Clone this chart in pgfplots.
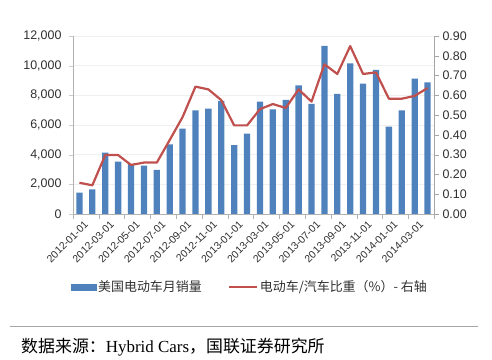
\documentclass[border=0pt]{standalone}
\usepackage{pgfplots}
\pgfplotsset{compat=1.18}
\usepackage{pgfplotstable}
\usepackage{fontspec}
\setmainfont{Liberation Sans}
\newfontfamily\cjk{Noto Sans CJK SC}
\newfontfamily\serif{Liberation Serif}
\definecolor{barblue}{HTML}{4F81BD}
\definecolor{linered}{HTML}{C0504D}
\definecolor{txt}{HTML}{303030}
\pgfplotstableread{
x sales share
0 1440 0.158
1 1660 0.145
2 4130 0.298
3 3530 0.298
4 3370 0.248
5 3260 0.260
6 2970 0.260
7 4700 0.374
8 5750 0.490
9 6990 0.644
10 7100 0.630
11 7620 0.576
12 4650 0.448
13 5420 0.448
14 7580 0.530
15 7060 0.556
16 7690 0.536
17 8670 0.630
18 7420 0.568
19 11330 0.757
20 8090 0.708
21 10160 0.849
22 8790 0.708
23 9710 0.716
24 5890 0.583
25 6990 0.583
26 9120 0.597
27 8880 0.637
}\datatable
\begin{document}
\begin{tikzpicture}
\useasboundingbox (0,0) rectangle (492bp,360bp);
\begin{axis}[
  at={(73bp,146bp)}, anchor=south west, scale only axis,
  width=361bp, height=178bp,
  xmin=-0.5, xmax=27.5, ymin=0, ymax=12000,
  axis y line*=left, axis x line*=bottom,
  axis line style={draw=gray!60},
  ytick={0,2000,...,12000},
  ymajorgrids, grid style={draw=gray!12},
  y tick label style={font=\fontsize{12.5}{14}\selectfont, text=txt, xshift=-4bp},
  yticklabel style={/pgf/number format/.cd, fixed, 1000 sep={,}, assume math mode=true},
  scaled y ticks=false,
  tick align=outside,
  major tick length=4bp,
  minor tick length=5bp,
  tick style={draw=gray!60},
  xtick={0,2,...,26},
  xticklabels={2012-01-01,2012-03-01,2012-05-01,2012-07-01,2012-09-01,2012-11-01,2013-01-01,2013-03-01,2013-05-01,2013-07-01,2013-09-01,2013-11-01,2014-01-01,2014-03-01},
  x tick style={draw=none},
  minor xtick={-0.5,1.5,...,27.5},
  minor x tick style={draw=gray!60},
  x tick label style={font=\fontsize{10.5}{11}\selectfont, text=txt, rotate=45, anchor=north east, xshift=5bp, yshift=-1bp},
  ytick style={draw=gray!40},
]
\addplot[ybar, bar width=6.3bp, fill=barblue, draw=none] table[x=x, y=sales] {\datatable};
\end{axis}
\begin{axis}[
  at={(73bp,146bp)}, anchor=south west, scale only axis,
  width=361bp, height=178bp,
  xmin=-0.5, xmax=27.5, ymin=0, ymax=0.9,
  axis y line*=right, axis x line=none,
  axis line style={draw=gray!70},
  ytick={0,0.1,...,0.9},
  y tick label style={font=\fontsize{12.5}{14}\selectfont, text=txt},
  yticklabel style={/pgf/number format/.cd, fixed, fixed zerofill, precision=2, assume math mode=true},
  tick align=outside, major tick length=5bp, tick style={draw=gray!70},
  legend columns=2,
  legend style={at={(-0.015,-0.41)}, anchor=west, draw=none, fill=none,
    font=\cjk\fontsize{13}{15}\selectfont, text=txt,
    /tikz/every even column/.append style={column sep=24bp}},
]
\addlegendimage{legend image code/.code={\fill[barblue] (0bp,-3bp) rectangle (25bp,3bp);}}
\addlegendentry{美国电动车月销量}
\addlegendimage{legend image code/.code={\draw[linered, line width=2.2bp] (0bp,0bp) -- (28bp,0bp);}}
\addlegendentry{电动车/汽车比重（\%）- 右轴}
\addplot[linered, line width=2.2bp, line join=round] table[x=x, y=share] {\datatable};
\end{axis}
\draw[gray!70, line width=0.6bp] (10bp,33.3bp) -- (478bp,33.3bp);
\node[anchor=west, inner sep=0, font=\fontsize{17}{19}\selectfont] at (21bp,13bp) {\cjk 数据来源：\serif Hybrid Cars\cjk ，国联证券研究所};
\end{tikzpicture}
\end{document}
